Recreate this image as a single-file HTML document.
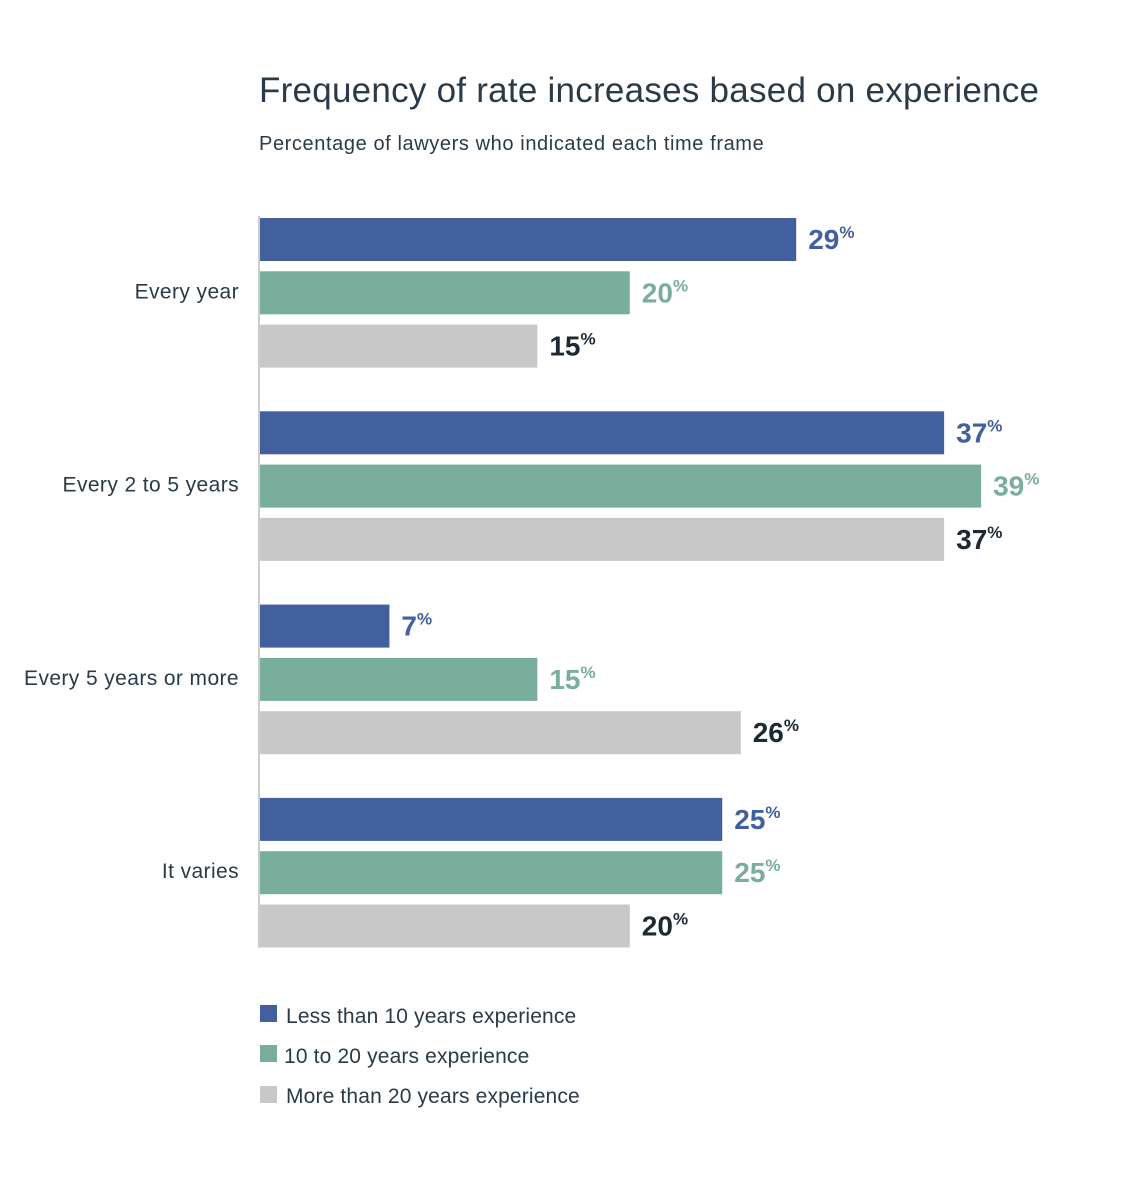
<!DOCTYPE html>
<html><head><meta charset="utf-8"><style>
body{margin:0;background:#fff;}
svg{display:block;font-family:"Liberation Sans",sans-serif;}
</style></head><body>
<svg id="c" width="1125" height="1194">
<text x="259" y="102" font-size="35" letter-spacing="0.25" fill="#2a3a48">Frequency of rate increases based on experience</text>
<text x="259" y="150" font-size="20" letter-spacing="0.6" fill="#2a3a48">Percentage of lawyers who indicated each time frame</text>
<g id="bars"></g>
<line x1="259" y1="216" x2="259" y2="948" stroke="#cccccc" stroke-width="2"/>
<g letter-spacing="0.15">
<g><rect x="260" y="1005" width="17" height="17" fill="#42609e"/><text x="286" y="1023" font-size="21" fill="#2a3a48">Less than 10 years experience</text></g>
<g><rect x="260" y="1045" width="17" height="17" fill="#78ae9b"/><text x="284" y="1063" font-size="21" fill="#2a3a48">10 to 20 years experience</text></g>
<g><rect x="260" y="1086" width="17" height="17" fill="#c8c8c8"/><text x="286" y="1103" font-size="21" fill="#2a3a48">More than 20 years experience</text></g>
</g>
</svg>
<script>
const categories = ["Every year","Every 2 to 5 years","Every 5 years or more","It varies"];
const lessThan10 = [29,37,7,25];
const from10to20 = [20,39,15,25];
const moreThan20 = [15,37,26,20];
const seriesNames = ["less-than-10","10-to-20","more-than-20"];
const NS="http://www.w3.org/2000/svg";
const g=document.getElementById('bars');
const series=[lessThan10,from10to20,moreThan20];
const fills=["#42609e","#78ae9b","#c8c8c8"];
const txt=["#42609e","#78ae9b","#1d2a35"];
const x0=260, pxPer=18.49;
function xs(v){return v*pxPer;}
function yBar(ci,si){return 218+ci*193.3+si*53.3;}
categories.forEach((c,ci)=>{
  const t=document.createElementNS(NS,'text');
  
  
  t.setAttribute('x',239);t.setAttribute('y',yBar(ci,1)+27);
  t.setAttribute('text-anchor','end');t.setAttribute('font-size','21');t.setAttribute('letter-spacing','0.4');t.setAttribute('fill','#2a3a48');
  t.textContent=c;g.appendChild(t);
  series.forEach((s,si)=>{
    const y=yBar(ci,si),w=xs(s[ci]);
    const r=document.createElementNS(NS,'rect');
    
    
    r.setAttribute('x',x0);r.setAttribute('y',y);r.setAttribute('width',w);r.setAttribute('height',43);
    r.setAttribute('fill',fills[si]);g.appendChild(r);
    const l=document.createElementNS(NS,'text');
    
    
    l.setAttribute('x',x0+w+12);l.setAttribute('y',y+31);
    l.setAttribute('font-size','28');l.setAttribute('font-weight','bold');l.setAttribute('fill',txt[si]);
    l.textContent=s[ci];
    const p=document.createElementNS(NS,'tspan');
    p.setAttribute('font-size','17');p.setAttribute('dy','-11');
    p.textContent='%';l.appendChild(p);
    g.appendChild(l);
  });
});
</script>
</body></html>
